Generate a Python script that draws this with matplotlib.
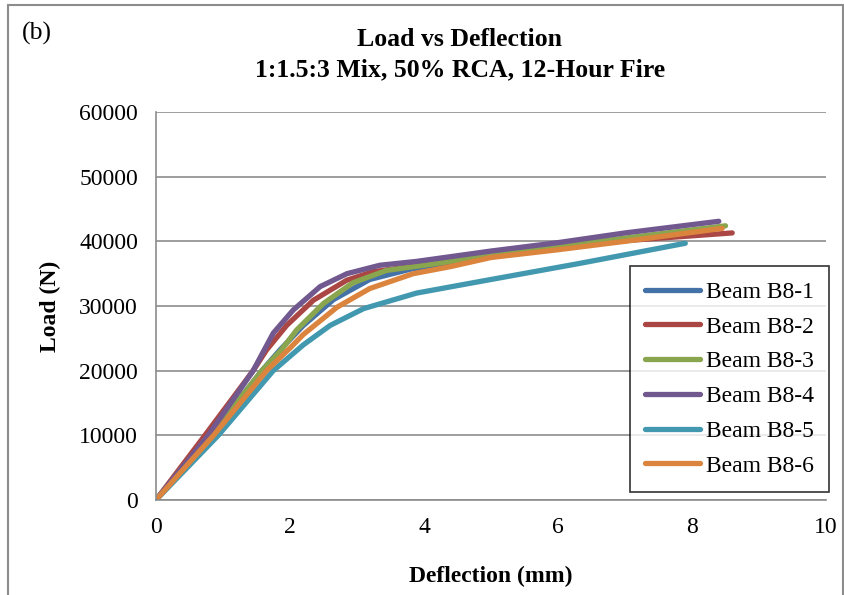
import matplotlib.pyplot as plt
from matplotlib.patches import Rectangle

plt.rcParams['font.family'] = ['Liberation Serif', 'DejaVu Serif']

# (deflection in mm, load in N)
d1 = [0, 0.82, 1.58, 1.85, 2.2, 2.65, 3.19, 3.8, 5.0, 6.0, 7.0, 8.3]
l1 = [0, 10000, 20000, 23200, 27000, 31000, 34100, 35700, 37600, 39000, 40300, 41800]
d2 = [0, 0.73, 1.45, 1.65, 1.95, 2.35, 2.85, 3.24, 3.8, 5.0, 6.0, 7.0, 8.6]
l2 = [0, 10000, 20000, 23200, 27000, 30900, 34000, 35300, 36100, 37700, 39000, 40100, 41300]
d3 = [0, 0.82, 1.58, 1.87, 2.1, 2.5, 2.94, 3.44, 4.0, 5.0, 6.0, 7.0, 8.5]
l3 = [0, 10000, 20000, 23200, 26300, 30400, 33600, 35500, 36300, 37800, 39200, 40500, 42400]
d4 = [0, 0.78, 1.45, 1.75, 2.05, 2.45, 2.85, 3.34, 3.89, 5.0, 6.0, 7.0, 8.4]
l4 = [0, 10000, 20000, 25800, 29400, 33000, 35000, 36300, 36900, 38500, 39800, 41300, 43100]
d5 = [0, 0.93, 1.75, 2.2, 2.6, 3.1, 3.89, 4.84, 6.33, 7.9]
l5 = [0, 10000, 20000, 24000, 27000, 29600, 32000, 33800, 36600, 39700]
d6 = [0, 0.86, 1.65, 2.0, 2.2, 2.7, 3.19, 3.84, 4.4, 5.0, 6.0, 7.0, 8.45]
l6 = [0, 10000, 20000, 23500, 25600, 29800, 32700, 35000, 36100, 37500, 38700, 40000, 42000]

series = [(d1, l1), (d2, l2), (d3, l3), (d4, l4), (d5, l5), (d6, l6)]
names = ['Beam B8-1', 'Beam B8-2', 'Beam B8-3', 'Beam B8-4', 'Beam B8-5', 'Beam B8-6']
colors = ['#4472A8', '#AA4643', '#89A54E', '#71588F', '#4198AF', '#DB843D']

fig = plt.figure(figsize=(8.45, 5.95), dpi=100)
ax = fig.add_axes([156/845, 1 - 500/595, 670/845, 388/595])

for (xs, ys), name, c in zip(series, names, colors):
    ax.plot(xs, ys, color=c, lw=3.8, label=name, solid_capstyle='round', solid_joinstyle='round')

ax.set_xlim(0, 10)
ax.set_ylim(0, 60000)
ax.set_xticks(range(0, 11, 2))
ax.set_yticks(range(0, 60001, 10000))
ax.yaxis.grid(True, color='#8C8C8C', lw=1.2)
ax.set_axisbelow(True)
for s in ['top', 'right']:
    ax.spines[s].set_visible(False)
for s in ['left', 'bottom']:
    ax.spines[s].set_color('#8C8C8C')
    ax.spines[s].set_linewidth(1.2)
ax.tick_params(labelcolor='black', labelsize=17, length=0)
ax.tick_params(axis='y', pad=13)
ax.tick_params(axis='x', pad=12)

ax.set_xlabel('Deflection (mm)', fontsize=17, fontweight='bold', labelpad=20)
ax.set_ylabel('Load (N)', fontsize=17, fontweight='bold', labelpad=13)

fig.text(460/845, 1 - 40/595, 'Load vs Deflection', ha='center', va='center',
         fontsize=18.5, fontweight='bold')
fig.text(460/845, 1 - 70/595, '1:1.5:3 Mix, 50% RCA, 12-Hour Fire', ha='center', va='center',
         fontsize=18.5, fontweight='bold')
fig.text(22/845, 1 - 33/595, '(b)', ha='left', va='center', fontsize=18.5)

leg = fig.legend(loc='upper left', bbox_to_anchor=(630/845, 1 - 266/595), fontsize=17,
                 frameon=True, fancybox=False, edgecolor='black', handlelength=2.3,
                 handletextpad=0.25, labelspacing=0.56, borderpad=0.65, borderaxespad=0)
leg.get_frame().set_linewidth(1.2)

fig.patches.append(Rectangle((8/845, -0.05), 835/845, 1.05 - 5/595, transform=fig.transFigure,
                             fill=False, edgecolor='#8C8C8C', lw=1.5))

fig.savefig('out.png', dpi=100)
